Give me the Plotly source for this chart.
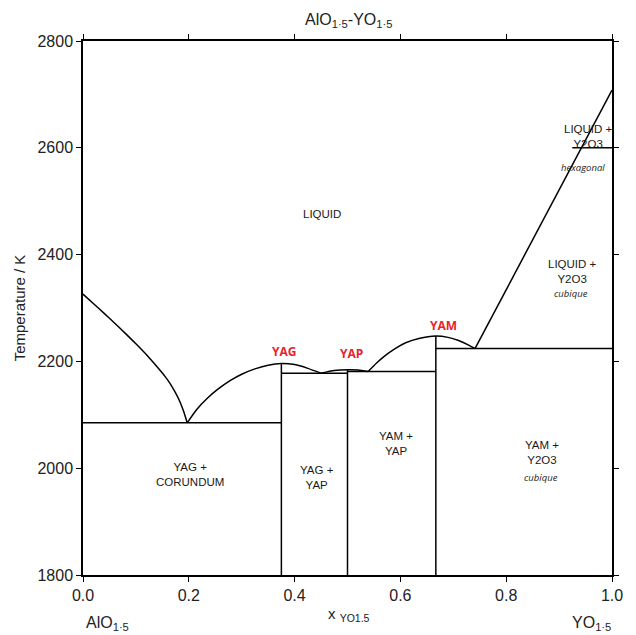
import plotly.graph_objects as go

# ---- data (x = mole fraction YO1.5, T in K) ----
liq_left_x = [0.0, 0.02, 0.04, 0.06, 0.08, 0.10, 0.12, 0.14, 0.155, 0.165, 0.175, 0.183, 0.19, 0.197]
liq_left_T = [2326, 2308, 2290, 2271.5, 2252.5, 2233, 2212.5, 2190, 2172, 2158, 2141, 2125, 2107, 2085]

yag_dome_x = [0.197, 0.215, 0.235, 0.255, 0.278, 0.30, 0.325, 0.35, 0.375, 0.40, 0.425, 0.45]
yag_dome_T = [2085, 2110, 2131, 2148, 2164, 2176, 2186, 2193, 2196, 2194, 2187, 2178]

yap_dome_x = [0.45, 0.475, 0.5, 0.52, 0.539]
yap_dome_T = [2178, 2183, 2184.5, 2184, 2181]

yam_dome_x = [0.539, 0.555, 0.57, 0.59, 0.61, 0.635, 0.667, 0.69, 0.71, 0.73, 0.741]
yam_dome_T = [2181, 2197, 2210, 2224, 2235, 2243, 2247.5, 2245, 2239, 2230, 2224]

y2o3_liq_x = [0.741, 1.0]
y2o3_liq_T = [2224, 2708]

# invariant (horizontal) lines: [x_start, x_end, T]
eut_x0 = [0.0, 0.375, 0.5, 0.667, 0.925]
eut_x1 = [0.375, 0.5, 0.667, 1.0, 1.0]
eut_T = [2085, 2178, 2181, 2224, 2600]

# compound lines: x and top temperature
comp_x = [0.375, 0.5, 0.667]
comp_T = [2196, 2184.5, 2247.5]
T_min = 1800

x_ticks = [0.0, 0.2, 0.4, 0.6, 0.8, 1.0]
x_tick_text = ["0.0", "0.2", "0.4", "0.6", "0.8", "1.0"]
y_ticks = [1800, 2000, 2200, 2400, 2600, 2800]

# phase labels: text, x, T
phase_text = ["LIQUID", "YAG +<br>CORUNDUM", "YAG +<br>YAP", "YAM +<br>YAP",
              "YAM +<br>Y2O3", "LIQUID +<br>Y2O3", "LIQUID +<br>Y2O3"]
phase_x = [0.452, 0.202, 0.442, 0.591, 0.868, 0.955, 0.925]
phase_T = [2476, 1989, 1982, 2047, 2030, 2622, 2369]

italic_text = ["cubique", "hexagonal", "cubique"]
italic_x = [0.866, 0.945, 0.922]
italic_T = [1983, 2564, 2327]

compound_text = ["YAG", "YAP", "YAM"]
compound_x = [0.38, 0.507, 0.682]
compound_T = [2219, 2214, 2268]

LINE = dict(color="black", width=1.5)
fig = go.Figure()

for xs, ts in [(liq_left_x, liq_left_T), (yag_dome_x, yag_dome_T), (yap_dome_x, yap_dome_T),
               (yam_dome_x, yam_dome_T), (y2o3_liq_x, y2o3_liq_T)]:
    fig.add_trace(go.Scatter(x=xs, y=ts, mode="lines", line=dict(LINE, shape="spline", smoothing=0.6),
                             showlegend=False, hoverinfo="skip"))

for a, b, t in zip(eut_x0, eut_x1, eut_T):
    fig.add_trace(go.Scatter(x=[a, b], y=[t, t], mode="lines", line=LINE, showlegend=False, hoverinfo="skip"))

for cx, ct in zip(comp_x, comp_T):
    fig.add_trace(go.Scatter(x=[cx, cx], y=[T_min, ct], mode="lines", line=LINE, showlegend=False, hoverinfo="skip"))

FONT = "Liberation Sans, Arial, sans-serif"
ann = []
for t, x, y in zip(phase_text, phase_x, phase_T):
    ann.append(dict(x=x, y=y, xref="x", yref="y", text=t, showarrow=False, yanchor="middle",
                    font=dict(family=FONT, size=11.5, color="#1a1a1a"), align="center"))
for t, x, y in zip(italic_text, italic_x, italic_T):
    ann.append(dict(x=x, y=y, xref="x", yref="y", text="<i>" + t + "</i>", showarrow=False, yanchor="middle",
                    font=dict(family="Open Sans, sans-serif", size=9.5, color="#222"), align="center"))
for t, x, y in zip(compound_text, compound_x, compound_T):
    ann.append(dict(x=x, y=y, xref="x", yref="y", text="<b>" + t + "</b>", showarrow=False, yanchor="middle",
                    font=dict(family="Open Sans, sans-serif", size=12, color="#e8232a")))

# plot area in screen px: x 83..612, y 41..575 (page has 8px body margin)
def px(xp):
    return (xp - 83) / 529

def py(yp):
    return (575 - yp) / 534

ann.append(dict(x=px(349), y=py(614), xref="paper", yref="paper", yanchor="middle",
                text="x <sub>YO1.5</sub>", showarrow=False, font=dict(family=FONT, size=15, color="#222")))
ann.append(dict(x=px(84), y=py(623), xref="paper", yref="paper", yanchor="middle",
                text="AlO<sub>1·5</sub>", showarrow=False, font=dict(family=FONT, size=16, color="#222")))
ann.append(dict(x=px(613), y=py(623), xref="paper", yref="paper", yanchor="middle",
                text="YO<sub>1·5</sub>", showarrow=False, font=dict(family=FONT, size=16, color="#222")))
ann.append(dict(x=px(348), y=py(20), xref="paper", yref="paper", yanchor="middle",
                text="AlO<sub>1·5</sub>-YO<sub>1·5</sub>", showarrow=False,
                font=dict(family=FONT, size=16, color="#222")))

fig.update_layout(
    width=628, height=627,
    margin=dict(l=75, r=24, t=33, b=60, autoexpand=False),
    paper_bgcolor="white", plot_bgcolor="white",
    annotations=ann,
    font=dict(family=FONT, color="#222"),
)
fig.update_xaxes(range=[0, 1], tickvals=x_ticks, ticktext=x_tick_text, ticks="outside", ticklen=5,
                 tickcolor="black", showline=True, linecolor="black", linewidth=1.5, mirror="ticks",
                 showgrid=False, zeroline=False, tickfont=dict(size=16, family=FONT, color="#222"))
fig.update_yaxes(range=[1800, 2800], tickvals=y_ticks, ticks="outside", ticklen=5, tickcolor="black",
                 showline=True, linecolor="black", linewidth=1.5, mirror="ticks", showgrid=False,
                 zeroline=False, tickfont=dict(size=16, family=FONT, color="#222"),
                 title=dict(text="Temperature / K", font=dict(size=15, family=FONT, color="#222"), standoff=8))

fig.write_html("out.html")
